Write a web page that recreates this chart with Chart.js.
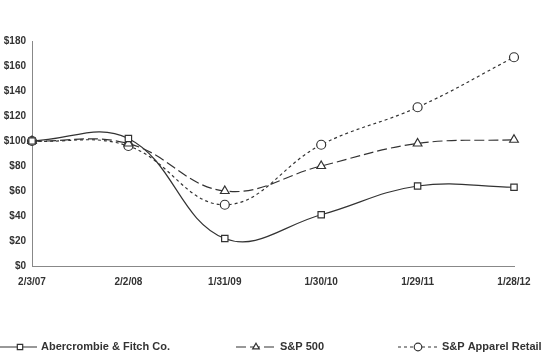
<!DOCTYPE html>
<html><head><meta charset="utf-8">
<script src="https://cdn.jsdelivr.net/npm/chart.js@4/dist/chart.umd.min.js"></script>
<style>html,body{margin:0;padding:0;background:#fff}#wrap{width:541px;height:357px}</style>
</head><body><div id="wrap"><canvas id="c" width="541" height="357"></canvas></div>
<script>
const categories = ["2/3/07","2/2/08","1/31/09","1/30/10","1/29/11","1/28/12"];
const abercrombie = [100, 102, 22, 41, 64, 63];
const sp500 = [100, 98, 60, 80, 98, 101];
const apparel = [100, 96, 49, 97, 127, 167];
const yTicks = [0,20,40,60,80,100,120,140,160,180];

const ink = '#333333';
const FONT = '"Liberation Sans", Arial, sans-serif';

const legendPlugin = {
  id: 'customLegend',
  afterDraw(chart) {
    const ctx = chart.ctx;
    const y = 347;
    const items = [
      {ds:0, x0:0, mx:20, x1:37, tx:41},
      {ds:1, x0:236, mx:256, x1:276, tx:280},
      {ds:2, x0:398, mx:418, x1:438, tx:442}
    ];
    ctx.save();
    items.forEach(it => {
      const d = chart.data.datasets[it.ds];
      ctx.strokeStyle = ink; ctx.lineWidth = 1.2;
      ctx.setLineDash(d.borderDash || []);
      ctx.beginPath(); ctx.moveTo(it.x0, y); ctx.lineTo(it.x1, y); ctx.stroke();
      ctx.setLineDash([]);
      ctx.fillStyle = '#fff';
      ctx.strokeStyle = ink;
      Chart.helpers.drawPoint(ctx, {pointStyle: d.pointStyle, radius: 3.8, borderWidth: 1.2, rotation: 0}, it.mx, y);
      ctx.fillStyle = ink;
      ctx.font = 'bold 11px ' + FONT;
      ctx.textBaseline = 'middle'; ctx.textAlign = 'left';
      ctx.fillText(d.label, it.tx, y);
    });
    ctx.restore();
  }
};

const common = {borderColor: ink, borderWidth: 1.2, pointBackgroundColor: '#fff', pointBorderColor: ink, pointBorderWidth: 1.2, tension: 0.4, fill: false};

new Chart(document.getElementById('c'), {
  type: 'line',
  data: {
    labels: categories,
    datasets: [
      Object.assign({label: 'Abercrombie & Fitch Co.', data: abercrombie, pointStyle: 'rect', pointRadius: 4.5}, common),
      Object.assign({label: 'S&P 500', data: sp500, pointStyle: 'triangle', pointRadius: 5, borderDash: [10,4]}, common),
      Object.assign({label: 'S&P Apparel Retail', data: apparel, pointStyle: 'circle', pointRadius: 4.5, borderDash: [3,3]}, common)
    ]
  },
  options: {
    responsive: false,
    animation: false,
    layout: {padding: {top: 41, right: 27, left: 0, bottom: 0}},
    plugins: {legend: {display: false}, tooltip: {enabled: false}},
    scales: {
      x: {
        type: 'category', offset: false,
        grid: {display: false, drawTicks: false},
        border: {color: '#888', width: 1},
        ticks: {color: ink, font: {family: FONT, size: 10, weight: 'bold'}, maxRotation: 0, autoSkip: false, padding: 10},
        afterFit(s) { s.height = 91; }
      },
      y: {
        min: 0, max: 180,
        afterBuildTicks(s) { s.ticks = yTicks.map(v => ({value: v})); },
        grid: {display: false, drawTicks: true, tickLength: 4, tickColor: '#888'},
        border: {color: '#888', width: 1},
        ticks: {color: ink, font: {family: FONT, size: 10, weight: 'bold'}, padding: 2, callback: v => '$' + v},
        afterFit(s) { s.width = 32; }
      }
    }
  },
  plugins: [legendPlugin]
});
</script></body></html>
